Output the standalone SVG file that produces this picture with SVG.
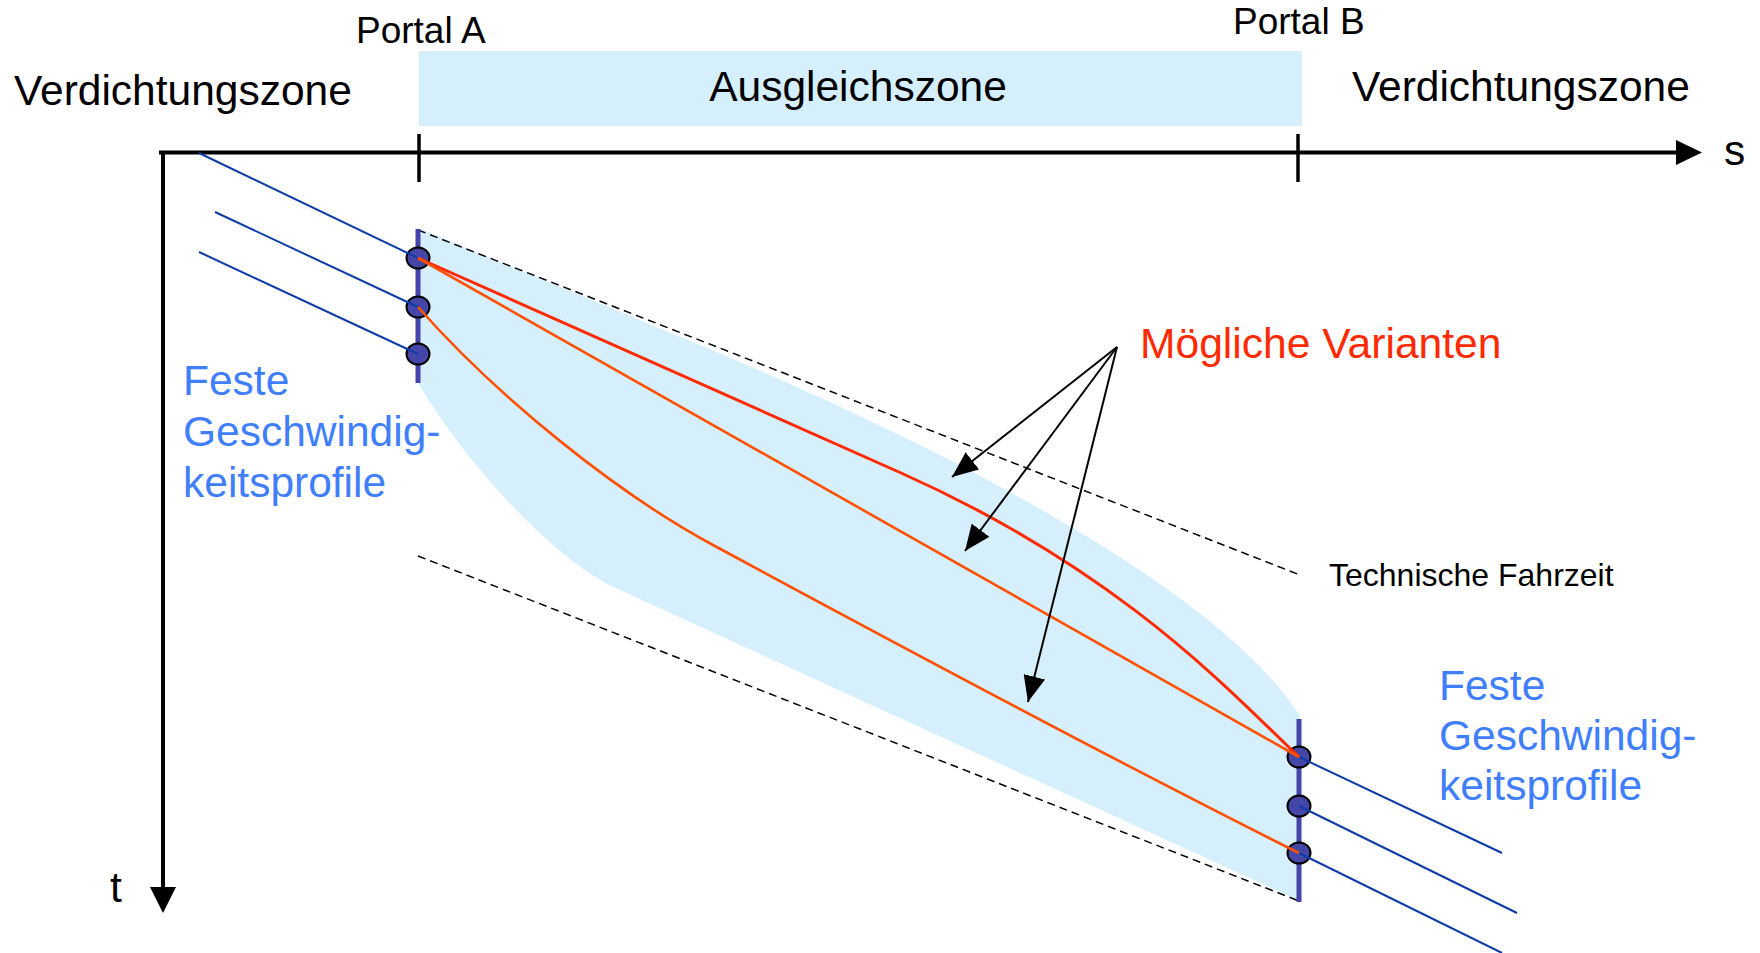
<svg xmlns="http://www.w3.org/2000/svg" width="1760" height="953" viewBox="0 0 1760 953">
<defs>
<style>
text{font-family:"Liberation Sans",Arial,sans-serif;}
.lbl{font-size:42.5px;fill:#000;}
.portal{font-size:37px;fill:#000;}
.blue{font-size:42.5px;fill:#3F7FFF;}
.red{font-size:42.6px;fill:#FF2A00;}
.small{font-size:32px;fill:#000;}
.axis{stroke:#000;stroke-width:4;fill:none;}
.tick{stroke:#000;stroke-width:3.5;}
.dash{stroke:#000;stroke-width:1.5;stroke-dasharray:8 5;fill:none;}
.bar{stroke:#4444AA;stroke-width:5;}
.prof{stroke:#0D3BA8;stroke-width:2;fill:none;}
.dot{fill:#4447A8;stroke:#000;stroke-width:2;}
.var1{stroke:#FF2A00;stroke-width:3;fill:none;}
.var2{stroke:#FF5000;stroke-width:2.6;fill:none;}
.ptr{stroke:#000;stroke-width:2;fill:none;}
.zone{fill:#D5EFFD;}
</style>
<marker id="ah" markerUnits="userSpaceOnUse" markerWidth="26" markerHeight="22" refX="26" refY="11" orient="auto" viewBox="0 0 26 22">
<path d="M0,0 L26,11 L0,22 z" fill="#000"/>
</marker>
</defs>

<g id="ausgleichszone-band">
<rect class="zone" x="419" y="51" width="883" height="75"/>
<text class="lbl" x="858" y="101" text-anchor="middle">Ausgleichszone</text>
</g>

<g id="moeglichkeitsraum">
<path class="zone" d="M418,228 L700,345 C950,450 1220,590 1300,716 L1300,901 L620,590 C560,565 470,470 418,383 Z"/>
</g>

<g id="labels">
<text class="portal" x="356" y="43">Portal A</text>
<text class="portal" x="1233" y="34">Portal B</text>
<text class="lbl" x="14" y="105">Verdichtungszone</text>
<text class="lbl" x="1352" y="101">Verdichtungszone</text>
<text class="lbl" x="1724" y="165">s</text>
<text class="lbl" x="110" y="902">t</text>
</g>

<g id="technische-fahrzeit">
<line class="dash" x1="418" y1="230" x2="1300" y2="575"/>
<line class="dash" x1="418" y1="556" x2="1299" y2="901"/>
<text class="small" x="1329" y="586">Technische Fahrzeit</text>
</g>

<g id="axes">
<line class="axis" x1="159" y1="152.5" x2="1678" y2="152.5"/>
<path d="M1676,140 L1702,152.5 L1676,165 z" fill="#000"/>
<line class="axis" x1="163" y1="151" x2="163" y2="890"/>
<path d="M150,887 L163,913 L176,887 z" fill="#000"/>
<line class="tick" x1="419" y1="134" x2="419" y2="182"/>
<line class="tick" x1="1298" y1="134" x2="1298" y2="182"/>
</g>

<g id="portal-a">
<line class="bar" x1="418" y1="229" x2="418" y2="383"/>
<ellipse class="dot" cx="418" cy="258" rx="11.5" ry="10.5"/>
<ellipse class="dot" cx="418" cy="307" rx="11.5" ry="10.5"/>
<ellipse class="dot" cx="418" cy="354" rx="11.5" ry="10.5"/>
</g>

<g id="portal-b">
<line class="bar" x1="1299" y1="719" x2="1299" y2="902"/>
<ellipse class="dot" cx="1299" cy="757" rx="11.5" ry="10.5"/>
<ellipse class="dot" cx="1299" cy="806" rx="11.5" ry="10.5"/>
<ellipse class="dot" cx="1299" cy="853" rx="11.5" ry="10.5"/>
</g>

<g id="feste-profile-a">
<text class="blue" x="183" y="395">Feste</text>
<text class="blue" x="183" y="446">Geschwindig-</text>
<text class="blue" x="183" y="497">keitsprofile</text>
</g>

<g id="feste-profile-b">
<text class="blue" x="1439" y="700">Feste</text>
<text class="blue" x="1439" y="750">Geschwindig-</text>
<text class="blue" x="1439" y="800">keitsprofile</text>
</g>

<g id="moegliche-varianten">
<text class="red" x="1140" y="358">Mögliche Varianten</text>
</g>

<g id="connectors">
<line class="prof" x1="199" y1="153" x2="418" y2="258"/>
<line class="prof" x1="215" y1="212" x2="418" y2="307"/>
<line class="prof" x1="199" y1="252" x2="418" y2="354"/>
<line class="prof" x1="1299" y1="757" x2="1502" y2="853"/>
<line class="prof" x1="1299" y1="806" x2="1517" y2="913"/>
<line class="prof" x1="1299" y1="853" x2="1502" y2="953"/>
<path class="var1" d="M418,258 L900,472.5 C1120,570.4 1229,690.5 1299,757"/>
<path class="var2" d="M418,258 L1299,757"/>
<path class="var2" d="M418,307 C500,400 620,495 713,545 C863,626 1099,753 1299,853"/>
<line class="ptr" x1="1117" y1="347" x2="952" y2="477" marker-end="url(#ah)"/>
<line class="ptr" x1="1117" y1="347" x2="965" y2="551" marker-end="url(#ah)"/>
<line class="ptr" x1="1117" y1="347" x2="1028" y2="702" marker-end="url(#ah)"/>
</g>
</svg>
